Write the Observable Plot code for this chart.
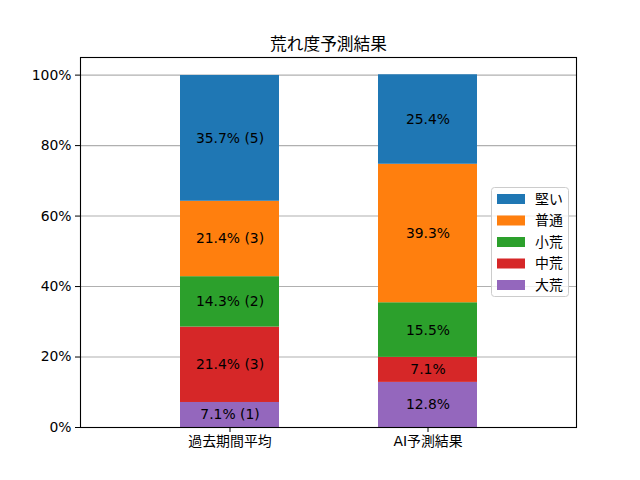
<!DOCTYPE html>
<html>
<head>
<meta charset="utf-8">
<script src="https://cdn.jsdelivr.net/npm/d3@7"></script>
<script src="https://cdn.jsdelivr.net/npm/@observablehq/plot@0.6"></script>
<style>
  body { margin: 0; background: white; }
  #chart { width: 640px; height: 480px; }
</style>
</head>
<body>
<div id="chart"></div>
<script>
const title = "荒れ度予測結果";
const categories = ["過去期間平均", "AI予測結果"];
const series = ["大荒", "中荒", "小荒", "普通", "堅い"]; // bottom to top
const legendOrder = ["堅い", "普通", "小荒", "中荒", "大荒"];
const colors = ["#9467bd", "#d62728", "#2ca02c", "#ff7f0e", "#1f77b4"];
const pastPct = [7.1, 21.4, 14.3, 21.4, 35.7];
const pastCount = [1, 3, 2, 3, 5];
const aiPct = [12.8, 7.1, 15.5, 39.3, 25.4];
const yTicks = [0, 20, 40, 60, 80, 100];

const data = [];
series.forEach((s, i) => {
  data.push({cat: categories[0], series: s, value: pastPct[i], label: `${pastPct[i].toFixed(1)}% (${pastCount[i]})`});
});
series.forEach((s, i) => {
  data.push({cat: categories[1], series: s, value: aiPct[i], label: `${aiPct[i].toFixed(1)}%`});
});

const font = "'DejaVu Sans', 'Noto Sans CJK JP', sans-serif";

const plot = Plot.plot({
  width: 640,
  height: 480,
  marginLeft: 80,
  marginRight: 64,
  marginTop: 57,
  marginBottom: 53,
  style: {fontFamily: font, fontSize: "13.9px", color: "black", background: "white"},
  x: {domain: categories, padding: 0.5, label: null, tickSize: 5, tickPadding: 4},
  y: {domain: [0, 105], ticks: yTicks, tickFormat: d => d + "%", label: null, tickSize: 5, tickPadding: 4},
  color: {domain: series, range: colors},
  marks: [
    Plot.gridY(yTicks, {stroke: "#b0b0b0", strokeOpacity: 1, strokeWidth: 1.1}),
    Plot.barY(data, {x: "cat", y: "value", fill: "series", z: "series"}),
    Plot.text(data, Plot.stackY({x: "cat", y: "value", z: "series", text: "label", fill: "black", fontSize: 13.9})),
    Plot.frame({stroke: "black", strokeWidth: 1.1}),
    Plot.axisX({tickSize: 5, tickPadding: 4, label: null, fontSize: 13.9}),
    Plot.axisY({ticks: yTicks, tickFormat: d => d + "%", tickSize: 5, tickPadding: 4, label: null, fontSize: 13.9}),
    Plot.text([title], {frameAnchor: "top", dy: -19, fontSize: 16.7, fill: "black"})
  ]
});

document.getElementById("chart").appendChild(plot);

// legend inside the axes (right side, vertically centered)
const svg = d3.select(plot);
const color = plot.scale("color");
const cmap = new Map(color.domain.map((d, i) => [d, color.range[i]]));
const lg = svg.append("g").attr("font-family", font).attr("font-size", 13.9).attr("text-anchor", "start");
lg.append("rect")
  .attr("x", 491.5).attr("y", 187.5).attr("width", 77).attr("height", 109)
  .attr("rx", 3).attr("fill", "white").attr("fill-opacity", 0.8)
  .attr("stroke", "#cccccc");
legendOrder.forEach((s, i) => {
  const cy = 199 + i * 21.5;
  lg.append("rect").attr("x", 497).attr("y", cy - 5).attr("width", 28).attr("height", 10).attr("fill", cmap.get(s));
  lg.append("text").attr("x", 535).attr("y", cy).attr("dy", "0.35em").attr("text-anchor", "start").attr("fill", "black").text(s);
});
</script>
</body>
</html>
